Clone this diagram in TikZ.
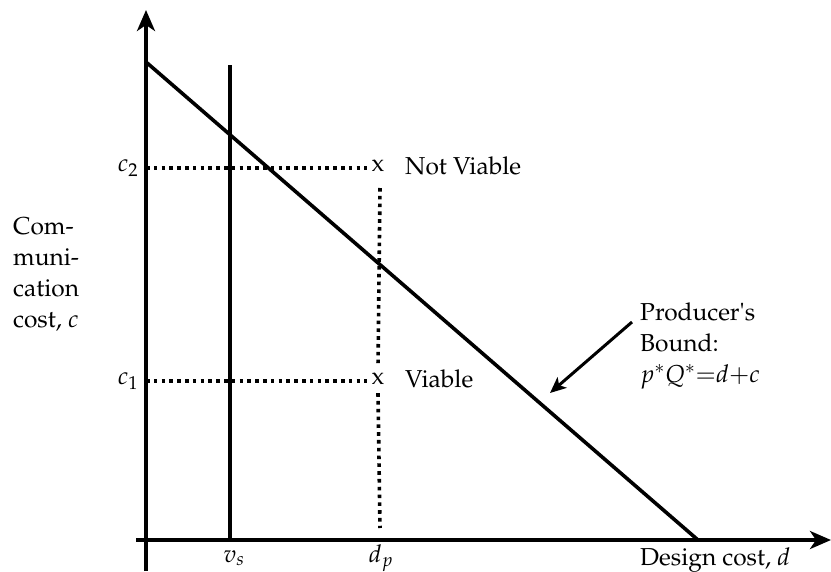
\documentclass[tikz,border=0pt]{standalone}
\usepackage[T1]{fontenc}
\usepackage{mathpazo}
\usetikzlibrary{arrows.meta}
\begin{document}
\begin{tikzpicture}[x=1pt,y=-1pt,
  every node/.style={font=\fontsize{24.5}{31}\selectfont, inner sep=0pt},
  thick line/.style={line width=3.6pt},
  axis/.style={line width=3.6pt, -{Stealth[length=21pt,width=18pt,inset=6pt]}},
  dotline/.style={line width=3.6pt, dash pattern=on 3.6pt off 4.2pt},
  pointer/.style={line width=3pt, -{Stealth[length=16pt,width=14pt,inset=4pt]}},
  lab/.style={anchor=base west, align=left}
]
\useasboundingbox (0,0) rectangle (831,571);
% axes
\coordinate (ybot) at (146,571);
\coordinate (ytop) at (146,10);
\coordinate (xleft) at (136,540);
\coordinate (xright) at (831,540);
\draw[axis] (ybot) -- (ytop);
\draw[axis] (xleft) -- (xright);
% producer's bound line
\coordinate (bA) at (146,62);
\coordinate (bB) at (698,540);
\draw[thick line] (bA) -- (bB);
% v_s line
\coordinate (vtop) at (230,65);
\coordinate (vbot) at (230,540);
\draw[thick line] (vtop) -- (vbot);
% points
\node (x2) at (378,166) {x};
\node (x1) at (378,379) {x};
\node[anchor=west] (nv) at (405,166) {Not Viable};
\node[anchor=west] (v) at (405,379) {Viable};
\coordinate (c2s) at (146,168);
\coordinate (c2e) at (367,168);
\coordinate (c1s) at (146,381);
\coordinate (c1e) at (367,381);
\draw[dotline] (c2s) -- (c2e);
\draw[dotline] (c1s) -- (c1e);
\coordinate (dtop) at (380,188);
\coordinate (dbot) at (380,528);
\draw[dotline] (dtop) -- ([yshift=6pt]x1.north);
\draw[dotline] ([yshift=-8pt]x1.south) -- (dbot);
% axis labels
\node (c2) at (128,168) {$c_2$};
\node (c1) at (128,381) {$c_1$};
\node (vs) at (234,558) {$v_s$};
\node (dp) at (381,558) {$d_p$};
\node[lab] (dc) at (640,565) {Design cost, $d$};
\node[lab] (cc) at (13,327) {Com-\\muni-\\cation\\cost, $c$};
% producer's bound label
\node[lab] (pb) at (640,382) {Producer\textquotesingle s\\Bound:\\$p^*Q^*{=}d{+}c$};
\coordinate (ptail) at (632,322);
\coordinate (ptip) at (550,393);
\draw[pointer] (ptail) -- (ptip);
\end{tikzpicture}
\end{document}
